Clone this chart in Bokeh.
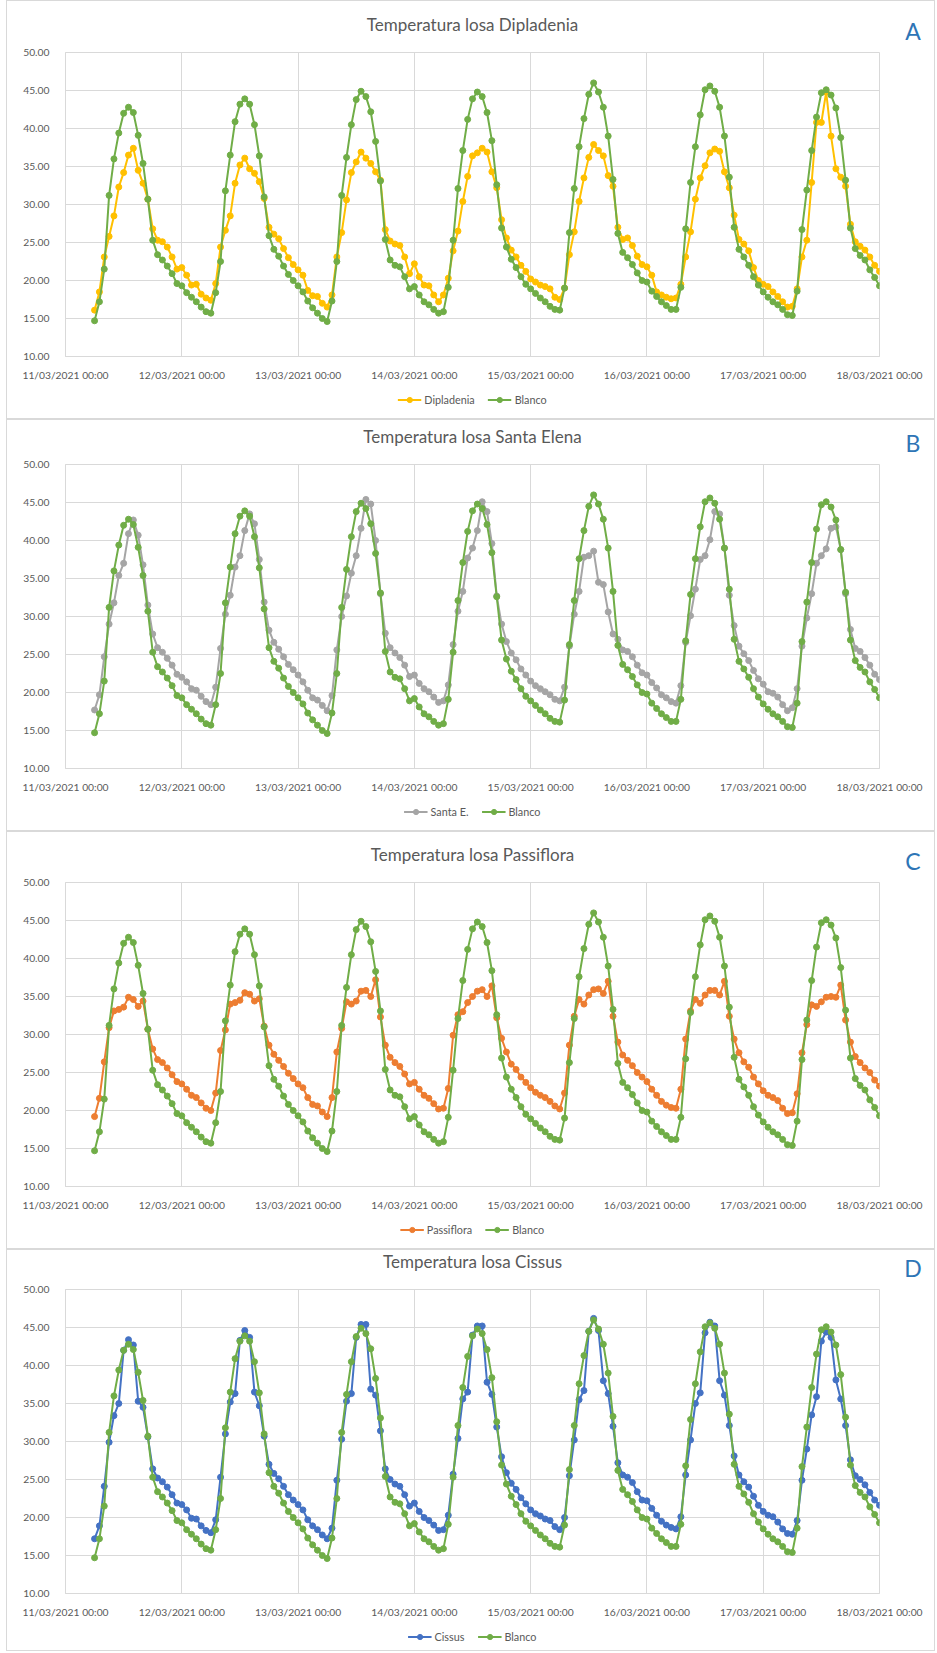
import pandas as pd
from bokeh.plotting import figure
from bokeh.models import (Range1d, FixedTicker, PrintfTickFormatter, Legend,
                          LegendItem, ColumnDataSource, Div)
from bokeh.layouts import column
from bokeh.embed import file_html
from bokeh.resources import INLINE

# ---------------- data ----------------
START = "2021-03-11 06:00"   # first hourly reading
x_tick_labels = ["11/03/2021 00:00", "12/03/2021 00:00", "13/03/2021 00:00",
                 "14/03/2021 00:00", "15/03/2021 00:00", "16/03/2021 00:00",
                 "17/03/2021 00:00", "18/03/2021 00:00"]
y_ticks = [10, 15, 20, 25, 30, 35, 40, 45, 50]

blanco = [
    14.7, 17.2, 21.5, 31.2, 36.0, 39.4, 42.0, 42.8, 42.1, 39.1, 35.4, 30.7, 25.3, 23.4, 22.7, 21.9, 20.9, 19.6,
    19.3, 18.4, 17.8, 17.2, 16.5, 15.9, 15.7, 18.4, 22.5, 31.8, 36.5, 40.9, 43.2, 43.9, 43.2, 40.5, 36.4, 31.0, 25.9, 24.1, 23.2, 21.9, 20.8, 20.0,
    19.3, 18.5, 17.3, 16.4, 15.7, 15.0, 14.6, 17.3, 22.5, 31.2, 36.2, 40.5, 43.8, 44.9, 44.2, 42.2, 38.3, 33.1, 25.4, 22.7, 22.0, 21.8, 20.5, 18.9,
    19.2, 18.1, 17.2, 16.8, 16.2, 15.7, 15.9, 19.1, 25.3, 32.1, 37.1, 41.2, 43.9, 44.8, 44.2, 42.1, 38.4, 32.6, 26.9, 24.4, 22.8, 21.7, 20.5, 19.5,
    18.9, 18.3, 17.7, 17.2, 16.6, 16.2, 16.1, 19.0, 26.3, 32.1, 37.6, 41.3, 44.5, 46.0, 44.8, 42.8, 39.0, 33.3, 26.2, 23.7, 23.0, 22.1, 21.0, 20.0,
    19.8, 18.6, 17.9, 17.2, 16.7, 16.2, 16.2, 19.1, 26.8, 32.9, 37.6, 41.8, 45.1, 45.6, 44.9, 42.8, 39.0, 33.6, 27.0, 24.1, 23.1, 22.0, 20.5, 19.4,
    18.5, 17.8, 17.2, 16.8, 16.2, 15.5, 15.4, 18.6, 26.7, 31.9, 37.1, 41.5, 44.7, 45.1, 44.4, 42.7, 38.8, 33.2, 26.9, 24.2, 23.3, 22.7, 21.4, 20.4,
    19.3,
]

dipladenia = [
    16.1, 18.5, 23.1, 25.8, 28.5, 32.3, 34.2, 36.5, 37.4, 34.5, 32.8, 30.7, 26.8, 25.3, 25.1, 24.4, 23.1, 21.5,
    21.7, 20.7, 19.4, 19.5, 18.2, 17.7, 17.4, 19.6, 24.4, 26.6, 28.5, 32.8, 35.2, 36.1, 34.7, 34.1, 33.0, 30.8, 27.0, 26.1, 25.5, 24.2, 23.0, 22.1,
    21.4, 20.7, 18.7, 18.0, 17.9, 17.0, 16.5, 18.1, 23.1, 26.3, 30.6, 34.2, 35.6, 36.9, 36.1, 35.4, 34.3, 33.2, 26.7, 25.2, 24.8, 24.6, 23.1, 20.9,
    22.2, 20.5, 19.4, 19.3, 18.1, 17.2, 18.1, 20.3, 23.9, 26.5, 30.4, 33.7, 36.4, 36.8, 37.4, 36.9, 34.3, 32.2, 28.0, 25.6, 24.0, 23.1, 22.0, 21.2,
    20.2, 19.8, 19.4, 19.2, 18.9, 17.8, 17.5, 19.0, 23.4, 26.4, 30.4, 33.5, 36.2, 37.9, 37.1, 36.4, 33.8, 32.4, 27.0, 25.4, 25.6, 24.6, 23.2, 22.1,
    21.8, 20.7, 18.5, 18.1, 17.8, 17.6, 17.7, 19.5, 23.1, 26.4, 30.7, 33.5, 35.1, 36.8, 37.3, 37.0, 34.3, 32.2, 28.6, 25.4, 24.8, 23.9, 21.7, 20.0,
    19.5, 19.2, 18.5, 17.9, 17.2, 16.5, 16.6, 18.9, 23.1, 25.3, 32.9, 40.8, 40.8, 44.8, 39.0, 34.7, 33.6, 32.4, 27.4, 25.1, 24.5, 24.0, 23.1, 22.0,
    21.2,
]

santa_e = [
    17.7, 19.7, 24.7, 29.0, 31.8, 35.4, 37.0, 40.9, 42.7, 40.7, 36.8, 31.5, 27.7, 25.9, 25.3, 24.5, 23.6, 22.4,
    22.0, 21.4, 20.5, 20.3, 19.5, 18.8, 18.4, 20.7, 25.8, 30.3, 32.8, 36.5, 38.0, 41.3, 43.5, 42.2, 37.5, 31.9, 28.2, 26.6, 25.7, 24.7, 23.7, 23.0,
    22.3, 21.4, 20.3, 19.3, 19.0, 18.3, 17.6, 19.6, 25.6, 30.0, 32.7, 35.7, 38.0, 41.6, 45.4, 44.8, 40.0, 33.0, 27.8, 25.9, 25.2, 24.6, 23.6, 22.1,
    22.3, 21.2, 20.5, 20.1, 19.4, 18.7, 18.9, 21.0, 26.3, 30.7, 33.3, 37.7, 39.0, 41.3, 45.1, 43.8, 39.6, 32.7, 29.0, 26.7, 25.2, 24.3, 23.1, 22.3,
    21.5, 20.9, 20.5, 20.1, 19.7, 19.1, 18.9, 20.7, 26.1, 30.3, 33.3, 37.8, 38.0, 38.6, 34.5, 34.2, 30.6, 27.7, 27.0, 25.6, 25.4, 24.7, 23.6, 22.6,
    22.3, 21.3, 20.6, 19.7, 19.3, 18.8, 18.6, 20.9, 26.6, 30.1, 33.6, 37.5, 38.0, 40.1, 43.8, 43.5, 39.0, 32.8, 28.8, 26.1, 25.1, 24.2, 22.9, 21.8,
    21.1, 20.1, 19.9, 19.4, 18.4, 17.6, 18.0, 20.5, 26.1, 29.8, 33.0, 37.0, 38.0, 38.9, 41.6, 41.8, 38.8, 33.0, 28.3, 25.8, 25.4, 24.6, 23.6, 22.4,
    21.7,
]

passiflora = [
    19.2, 21.6, 26.4, 30.9, 33.1, 33.3, 33.6, 34.9, 34.6, 33.7, 34.4, 30.7, 28.1, 26.7, 26.3, 25.6, 24.7, 23.8,
    23.5, 22.8, 22.0, 21.7, 21.0, 20.3, 20.0, 22.3, 27.9, 30.6, 34.0, 34.2, 34.5, 35.5, 35.3, 34.4, 34.7, 31.1, 28.6, 27.4, 26.6, 25.8, 24.9, 24.2,
    23.5, 23.0, 21.7, 20.8, 20.6, 19.8, 19.2, 21.7, 27.7, 30.8, 34.3, 34.0, 34.4, 35.7, 35.8, 35.0, 37.2, 32.3, 28.6, 27.0, 26.3, 25.8, 24.8, 23.5,
    23.7, 22.8, 22.0, 21.6, 20.9, 20.2, 20.3, 22.9, 29.9, 32.6, 33.0, 34.2, 35.0, 35.7, 35.9, 35.0, 36.4, 32.2, 29.5, 27.7, 26.1, 25.4, 24.4, 23.7,
    23.0, 22.4, 22.0, 21.7, 21.2, 20.6, 20.2, 22.3, 28.6, 32.4, 34.6, 34.0, 35.2, 35.9, 36.0, 35.4, 37.0, 32.4, 29.0, 27.3, 26.6, 25.9, 25.0, 24.4,
    23.8, 22.8, 22.0, 21.2, 20.7, 20.4, 20.3, 22.8, 29.4, 33.1, 34.6, 34.1, 35.2, 35.8, 35.8, 35.2, 37.0, 32.4, 29.4, 27.6, 26.4, 25.7, 24.4, 23.5,
    22.6, 22.0, 21.7, 21.3, 20.3, 19.6, 19.7, 22.2, 27.6, 31.3, 33.9, 33.7, 34.3, 34.9, 35.0, 34.9, 36.5, 31.9, 29.0, 27.1, 26.3, 25.6, 25.0, 24.0,
    23.2,
]

cissus = [
    17.2, 18.9, 24.1, 29.9, 33.4, 35.0, 42.0, 43.4, 42.7, 35.3, 34.5, 30.6, 26.4, 25.2, 24.7, 24.0, 23.0, 21.9,
    21.7, 21.0, 19.9, 19.8, 18.9, 18.3, 18.0, 19.7, 25.3, 31.0, 35.2, 36.3, 43.3, 44.6, 43.7, 36.5, 34.7, 30.7, 27.0, 25.8, 25.1, 24.1, 23.0, 22.3,
    21.7, 21.0, 19.7, 18.9, 18.4, 17.7, 17.2, 18.6, 24.9, 30.3, 35.3, 36.3, 43.7, 45.4, 45.4, 36.9, 36.1, 31.4, 26.4, 25.0, 24.4, 24.1, 23.0, 21.5,
    21.9, 20.8, 20.0, 19.6, 19.0, 18.3, 18.4, 20.3, 25.7, 30.4, 35.6, 36.5, 44.0, 45.2, 45.2, 37.8, 36.2, 31.9, 28.0, 25.9, 24.5, 23.7, 22.6, 21.8,
    21.0, 20.5, 20.2, 19.8, 19.6, 18.8, 18.4, 20.0, 25.5, 30.2, 35.5, 36.7, 44.5, 46.2, 44.6, 38.0, 36.3, 32.0, 27.2, 25.6, 25.3, 24.6, 23.4, 22.3,
    22.2, 21.2, 20.3, 19.5, 19.0, 18.7, 18.5, 20.1, 25.6, 30.2, 35.0, 36.4, 44.3, 45.7, 45.2, 38.0, 36.1, 32.1, 28.1, 25.6, 24.7, 24.0, 22.8, 21.6,
    20.8, 20.3, 20.1, 19.4, 18.5, 17.9, 17.8, 19.6, 24.9, 29.0, 33.5, 35.9, 43.2, 44.4, 43.7, 38.1, 35.6, 32.1, 27.6, 25.5, 25.0, 24.3, 23.3, 22.3,
    21.6,
]

panel_titles = ["Temperatura losa Dipladenia", "Temperatura losa Santa Elena",
                "Temperatura losa Passiflora", "Temperatura losa Cissus"]
panel_letters = ["A", "B", "C", "D"]
series_names = ["Dipladenia", "Santa E.", "Passiflora", "Cissus"]
series_values = [dipladenia, santa_e, passiflora, cissus]
series_colors = ["#FFC000", "#A5A5A5", "#ED7D31", "#4472C4"]
blanco_name = "Blanco"
blanco_color = "#70AD47"

for s in [blanco] + series_values:
    assert len(s) == 163, len(s)

# ---------------- layout / style ----------------
FONT = "Lato"
TXT = "#595959"
GRID = "#d9d9d9"
LETTER_COLOR = "#2E75B6"
FIG_W = 927
BORDER_L = 58
FRAME_W = 814
header_heights = [44, 37, 43, 32]
legend_heights = [35, 35, 35, 30]
MAIN_TOP, FRAME_H, MAIN_BOTTOM = 7, 307, 24

times = pd.date_range(START, periods=len(blanco), freq="h")
tick_times = pd.to_datetime(x_tick_labels, format="%d/%m/%Y %H:%M")
tick_ms = [int(t.value // 10**6) for t in tick_times]


def make_header(i):
    h = header_heights[i]
    html = (
        f'<div style="position:relative;width:{FIG_W}px;height:{h}px;'
        f'font-family:{FONT},sans-serif;">'
        f'<div style="position:absolute;left:2px;width:{FIG_W}px;top:{h - 30}px;'
        f'line-height:20px;text-align:center;font-size:17px;color:{TXT};'
        f'white-space:nowrap;">{panel_titles[i]}</div>'
        f'<div style="position:absolute;left:886px;width:40px;top:{h - 27}px;'
        f'line-height:26px;text-align:center;font-size:23px;color:{LETTER_COLOR};">'
        f'{panel_letters[i]}</div></div>'
    )
    return Div(text=html, width=FIG_W, height=h, margin=0)


def draw_series(p, src, color):
    l1 = p.line("t", "s", source=src, line_color=color, line_width=2)
    m1 = p.scatter("t", "s", source=src, marker="circle", size=6,
                   fill_color=color, line_color=color)
    l2 = p.line("t", "b", source=src, line_color=blanco_color, line_width=2)
    m2 = p.scatter("t", "b", source=src, marker="circle", size=6,
                   fill_color=blanco_color, line_color=blanco_color)
    return l1, m1, l2, m2


def make_main(i, src):
    p = figure(width=FIG_W, height=MAIN_TOP + FRAME_H + MAIN_BOTTOM,
               x_axis_type="datetime", output_backend="svg", toolbar_location=None,
               x_range=Range1d(tick_ms[0], tick_ms[-1]),
               y_range=Range1d(y_ticks[0], y_ticks[-1]),
               min_border_left=BORDER_L, min_border_right=FIG_W - BORDER_L - FRAME_W,
               min_border_top=MAIN_TOP, min_border_bottom=MAIN_BOTTOM,
               background_fill_color="white", border_fill_color="white",
               outline_line_color=GRID, title=None)
    p.xaxis.ticker = FixedTicker(ticks=tick_ms)
    p.xaxis.major_label_overrides = {ms: lab for ms, lab in zip(tick_ms, x_tick_labels)}
    p.yaxis.ticker = FixedTicker(ticks=y_ticks)
    p.yaxis.formatter = PrintfTickFormatter(format="%.2f")
    for ax in (p.xaxis, p.yaxis):
        ax.axis_line_color = GRID
        ax.major_tick_line_color = None
        ax.minor_tick_line_color = None
        ax.major_label_text_font = FONT
        ax.major_label_text_font_size = "10.3px"
        ax.major_label_text_color = TXT
    p.yaxis.major_label_standoff = 10
    p.xaxis.major_label_standoff = 6
    p.xgrid.grid_line_color = GRID
    p.ygrid.grid_line_color = GRID
    p.xgrid.ticker = FixedTicker(ticks=tick_ms)
    p.ygrid.ticker = FixedTicker(ticks=y_ticks)
    draw_series(p, src, series_colors[i])
    return p


def make_legend(i, src):
    # legend strip: its renderers share the panel's data but lie outside this strip's ranges
    p = figure(width=FIG_W, height=legend_heights[i], x_range=Range1d(0, 1),
               y_range=Range1d(0, 1), output_backend="svg", toolbar_location=None,
               min_border=0, x_axis_location=None, y_axis_location=None,
               outline_line_color=None, title=None)
    p.grid.visible = False
    l1, m1, l2, m2 = draw_series(p, src, series_colors[i])
    legend = Legend(items=[LegendItem(label=series_names[i], renderers=[l1, m1]),
                           LegendItem(label=blanco_name, renderers=[l2, m2])],
                    orientation="horizontal", location="top_center",
                    border_line_color=None, background_fill_alpha=0,
                    label_text_font=FONT, label_text_font_size="10.8px",
                    label_text_color=TXT, glyph_width=24, glyph_height=13,
                    label_height=13, label_standoff=3, spacing=13,
                    padding=0, margin=10)
    p.add_layout(legend)
    return p


panels = []
for i in range(4):
    src = ColumnDataSource(dict(t=times, s=series_values[i], b=blanco))
    panels.append(column(make_header(i), make_main(i, src), make_legend(i, src),
                         spacing=0, styles={"border": "1px solid #d9d9d9"}))

layout = column(*panels, spacing=0, styles={"margin-left": "6px"})

open("out.html", "w").write(file_html(layout, INLINE))
